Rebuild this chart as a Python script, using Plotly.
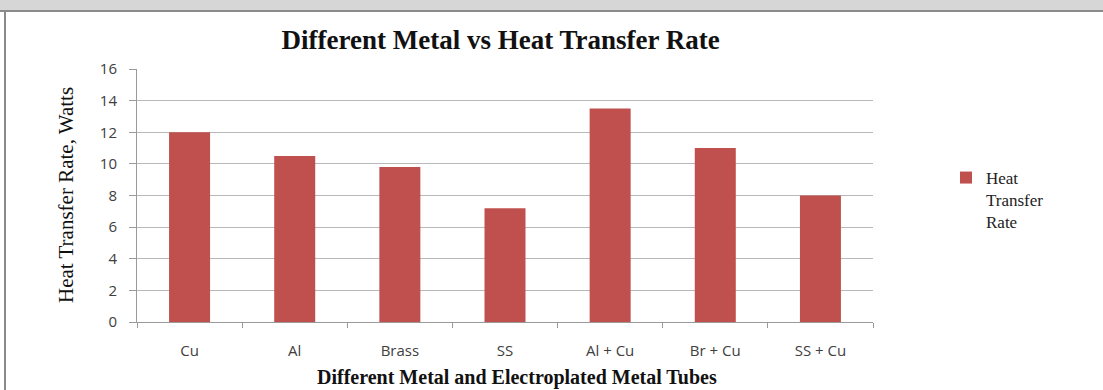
import plotly.graph_objects as go

categories = ["Cu", "Al", "Brass", "SS", "Al + Cu", "Br + Cu", "SS + Cu"]
heat_transfer = [12.0, 10.5, 9.8, 7.2, 13.5, 11.0, 8.0]
y_ticks = [0, 2, 4, 6, 8, 10, 12, 14, 16]

title_text = "Different Metal vs Heat Transfer Rate"
x_title = "Different Metal and Electroplated Metal Tubes"
y_title = "Heat Transfer Rate, Watts"
series_name = "Heat<br>Transfer<br>Rate"

W, H = 1103, 390
L, R, T, B = 137, 230, 69, 68
PW, PH = W - L - R, H - T - B


def px(xp):
    return (xp - L) / PW


def py(yp):
    return (H - B - yp) / PH


fig = go.Figure()
fig.add_trace(go.Bar(
    x=categories, y=heat_transfer, name=series_name,
    marker=dict(color="#C0504D", line=dict(width=0)),
    showlegend=True,
))

serif = "Liberation Serif, Times New Roman, serif"
sans = "Open Sans, Liberation Sans, sans-serif"

fig.update_layout(
    width=W, height=H,
    margin=dict(l=L, r=R, t=T, b=B, autoexpand=False),
    paper_bgcolor="white", plot_bgcolor="white",
    bargap=0.61,
    showlegend=True,
    legend=dict(
        x=px(946), xref="paper", xanchor="left",
        y=py(160), yref="paper", yanchor="top",
        font=dict(family=serif, size=17, color="#222222"),
        bgcolor="rgba(0,0,0,0)", itemwidth=30, tracegroupgap=0,
        traceorder="normal", valign="top",
    ),
    title=dict(
        text="<b>" + title_text + "</b>",
        x=545 / W, xref="paper", xanchor="center",
        y=1 - 40 / H, yref="container", yanchor="middle",
        font=dict(family=serif, size=27, color="#111111"),
    ),
    xaxis=dict(
        showline=True, linecolor="#9a9a9a", linewidth=1,
        ticks="outside", ticklen=5, tickcolor="#9a9a9a",
        tickson="boundaries",
        tickfont=dict(family=sans, size=15, color="#404040"),
        ticklabelstandoff=15,
        showgrid=False,
    ),
    yaxis=dict(
        range=[0, 16], tickvals=y_ticks,
        showline=True, linecolor="#9a9a9a", linewidth=1,
        ticks="outside", ticklen=7, tickcolor="#9a9a9a",
        showgrid=True, gridcolor="#b8b8b8", gridwidth=1,
        tickfont=dict(family=sans, size=15, color="#404040"),
        ticklabelstandoff=9,
        zeroline=False,
    ),
    shapes=[
        dict(type="rect", xref="paper", yref="paper",
             x0=px(0), x1=px(W), y0=py(0), y1=py(11),
             fillcolor="#d6d6d6", line=dict(width=0), layer="below"),
        dict(type="line", xref="paper", yref="paper",
             x0=px(0), x1=px(W), y0=py(11), y1=py(11),
             line=dict(color="#8a8a8a", width=2)),
        dict(type="line", xref="paper", yref="paper",
             x0=px(5), x1=px(5), y0=py(11), y1=py(H),
             line=dict(color="#8a8a8a", width=2)),
    ],
    annotations=[
        dict(text="<b>" + x_title + "</b>", xref="paper", yref="paper",
             x=px(517), y=py(377),
             xanchor="center", yanchor="middle", showarrow=False,
             font=dict(family=serif, size=20, color="#111111")),
        dict(text=y_title, xref="paper", yref="paper",
             x=px(66), y=py(195),
             xanchor="center", yanchor="middle", showarrow=False, textangle=-90,
             font=dict(family=serif, size=21, color="#111111")),
    ],
)

fig.write_html("out.html")
